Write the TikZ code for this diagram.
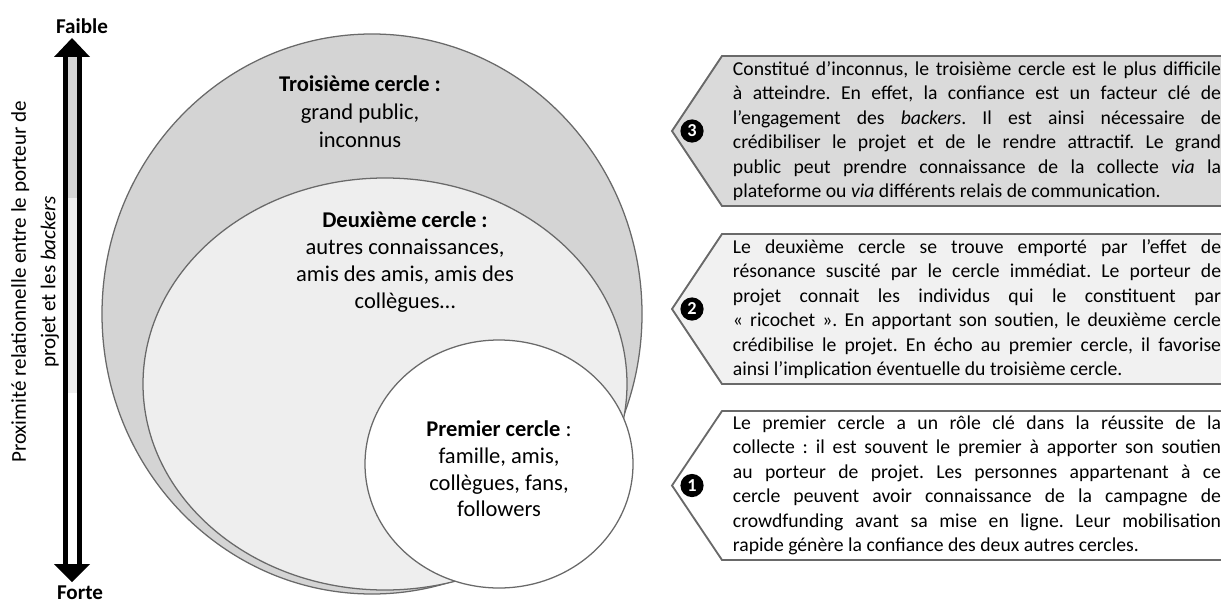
\documentclass[tikz,border=0pt]{standalone}
\usepackage{fontspec}
\setmainfont{Carlito}
\frenchspacing
\usetikzlibrary{positioning}
\tikzstyle{diagram} = [x = .025cm, y = -.025cm]
\definecolor{outerGray}{RGB}{212,212,212}
\definecolor{middleGray}{RGB}{238,238,238}
\definecolor{lineGray}{RGB}{105,105,105}
\definecolor{boxGray}{RGB}{218,218,218}
\definecolor{boxLightGray}{RGB}{241,241,241}
\tikzstyle{circleStyle} = [draw=lineGray, line width=.9pt]
\tikzstyle{circleText} = [align=center, font=\fontsize{16}{19}\selectfont]
\tikzstyle{boxStyle} = [draw=lineGray, line width=1.3pt, line join=miter]
\tikzstyle{boxText} = [text width=12.2cm, align=justify, inner sep=0pt, font=\fontsize{14}{17.4}\selectfont]
\tikzstyle{numberStyle} = [circle, fill=black, text=white, inner sep=0pt, minimum size=.58cm, font=\fontsize{13}{13}\selectfont\bfseries]
\tikzstyle{scaleText} = [inner sep=1pt, font=\fontsize{15}{18}\selectfont\bfseries]
\tikzstyle{shaftLine} = [line width=3.2pt]
\newcommand{\cercle}[5]{\filldraw [circleStyle, fill=#5] (#1, #2) ellipse [x radius=#3, y radius=#4];}
\newcommand{\textBox}[6]{
  \pgfmathsetmacro{\boxMiddle}{(#2 + #3) / 2}
  \filldraw [boxStyle, fill=#4] (722, #2) -- (1228, #2) -- (1228, #3) -- (722, #3) -- (672, \boxMiddle) -- cycle;
  \node [numberStyle] (#1Number) at (692, \boxMiddle) {#5};
  \node [boxText] (#1Text) at (977, \boxMiddle) {#6};
}

\begin{document}
\begin{tikzpicture}[diagram]
  \useasboundingbox (0, 0) rectangle (1221, 604);
  \clip (0, 0) rectangle (1221, 604);
  % scale on the left
  \fill [outerGray] (67, 56) rectangle (78, 198);
  \fill [middleGray] (67, 198) rectangle (78, 393);
  \draw [shaftLine] (65.5, 55) -- (65.5, 566) (79.5, 55) -- (79.5, 566);
  \fill (72, 38) -- (90, 57) -- (54, 57) -- cycle;
  \fill (72, 582) -- (90, 564) -- (54, 564) -- cycle;
  \node [scaleText] (faible) at (82, 26) {Faible};
  \node [scaleText] (forte) at (80, 593) {Forte};
  \node [rotate=90, align=center, font=\fontsize{15}{21}\selectfont] (proximite) at (35, 282) {Proximité relationnelle entre le porteur de\\projet et les \emph{backers}};
  % circles
  \cercle{372}{314}{270}{280}{outerGray}
  \cercle{385}{384}{242}{206}{middleGray}
  \cercle{499}{464}{134}{124}{white}
  \node [circleText, font=\fontsize{16}{20}\selectfont] (troisieme) at (360, 112) {\textbf{Troisième cercle :}\\grand public,\\inconnus};
  \node [circleText] (deuxieme) at (405, 262) {\textbf{Deuxième cercle :}\\autres connaissances,\\amis des amis, amis des\\collègues…};
  \node [circleText] (premier) at (499, 469) {\textbf{Premier cercle} :\\famille, amis,\\collègues, fans,\\followers};
  % boxes
  \textBox{troisiemeBox}{56}{206}{boxGray}{3}{Constitué d’inconnus, le troisième cercle est le plus difficile\linebreak à atteindre. En effet, la confiance est un facteur clé de\linebreak l’engagement des \emph{backers}. Il est ainsi nécessaire de\linebreak crédibiliser le projet et de le rendre attractif. Le grand\linebreak public peut prendre connaissance de la collecte \emph{via} la\linebreak plateforme ou \emph{via} différents relais de communication.}
  \textBox{deuxiemeBox}{234}{384}{boxLightGray}{2}{Le deuxième cercle se trouve emporté par l’effet de\linebreak résonance suscité par le cercle immédiat. Le porteur de\linebreak projet connait les individus qui le constituent par\linebreak «~ricochet~». En apportant son soutien, le deuxième cercle\linebreak crédibilise le projet. En écho au premier cercle, il favorise\linebreak ainsi l’implication éventuelle du troisième cercle.}
  \textBox{premierBox}{411}{560}{white}{1}{Le premier cercle a un rôle clé dans la réussite de la\linebreak collecte : il est souvent le premier à apporter son soutien\linebreak au porteur de projet. Les personnes appartenant à ce\linebreak cercle peuvent avoir connaissance de la campagne de\linebreak crowdfunding avant sa mise en ligne. Leur mobilisation\linebreak rapide génère la confiance des deux autres cercles.}
\end{tikzpicture}
\end{document}
